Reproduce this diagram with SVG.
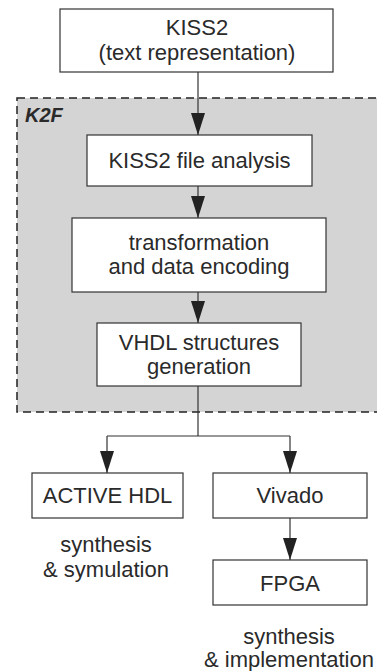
<svg xmlns="http://www.w3.org/2000/svg" width="377" height="671" viewBox="0 0 377 671">
<style>
.box{fill:#ffffff;stroke:#333333;stroke-width:1.2}
.t{font-family:"Liberation Sans",Arial,sans-serif;font-size:22px;fill:#2a2a2a;text-anchor:middle}
.c{fill:none;stroke:#333333;stroke-width:1.2}
</style>
<defs>
<marker id="ah" markerUnits="userSpaceOnUse" markerWidth="22" markerHeight="14" refX="22" refY="7" orient="auto" viewBox="0 0 22 14">
<path d="M0,0 L22,7 L0,14 z" fill="#222222"/>
</marker>
</defs>
<rect width="377" height="671" fill="#ffffff"/>
<g id="k2f">
<rect x="17" y="98" width="370" height="314" fill="#d4d4d4" stroke="#222222" stroke-width="1.5" stroke-dasharray="8 5"/>
<text x="25" y="122" style="font-family:'Liberation Sans',Arial,sans-serif;font-size:20px;font-weight:bold;font-style:italic;fill:#2a2a2a">K2F</text>
</g>
<g id="connectors">
<line class="c" x1="198" y1="72" x2="198" y2="135" marker-end="url(#ah)"/>
<line class="c" x1="198" y1="186" x2="198" y2="218" marker-end="url(#ah)"/>
<line class="c" x1="198" y1="292" x2="198" y2="323" marker-end="url(#ah)"/>
<polyline class="c" points="198,386 198,436"/>
<polyline class="c" points="107,436 290,436"/>
<line class="c" x1="107" y1="436" x2="107" y2="473" marker-end="url(#ah)"/>
<line class="c" x1="290" y1="436" x2="290" y2="473" marker-end="url(#ah)"/>
<line class="c" x1="290" y1="518" x2="290" y2="560" marker-end="url(#ah)"/>
</g>
<g id="kiss2">
<rect class="box" x="60" y="9" width="273" height="63"/>
<text class="t" x="197" y="35">KISS2</text>
<text class="t" x="197" y="60">(text representation)</text>
</g>
<g id="analysis">
<rect class="box" x="87" y="135" width="225" height="51"/>
<text class="t" x="199.5" y="168">KISS2 file analysis</text>
</g>
<g id="transformation">
<rect class="box" x="72" y="218" width="254" height="74"/>
<text class="t" x="199" y="250">transformation</text>
<text class="t" x="199" y="274">and data encoding</text>
</g>
<g id="vhdl">
<rect class="box" x="97" y="323" width="204" height="63"/>
<text class="t" x="199" y="350">VHDL structures</text>
<text class="t" x="199" y="374">generation</text>
</g>
<g id="activehdl">
<rect class="box" x="32" y="473" width="151" height="45"/>
<text class="t" x="107.5" y="503">ACTIVE HDL</text>
</g>
<g id="vivado">
<rect class="box" x="213" y="473" width="154" height="45"/>
<text class="t" x="290" y="503">Vivado</text>
</g>
<g id="fpga">
<rect class="box" x="213" y="560" width="154" height="45"/>
<text class="t" x="290" y="591">FPGA</text>
</g>
<g id="label-sim">
<text class="t" x="106" y="552">synthesis</text>
<text class="t" x="106" y="577">&amp; symulation</text>
</g>
<g id="label-impl">
<text class="t" x="289" y="644">synthesis</text>
<text class="t" x="289" y="667">&amp; implementation</text>
</g>
</svg>
